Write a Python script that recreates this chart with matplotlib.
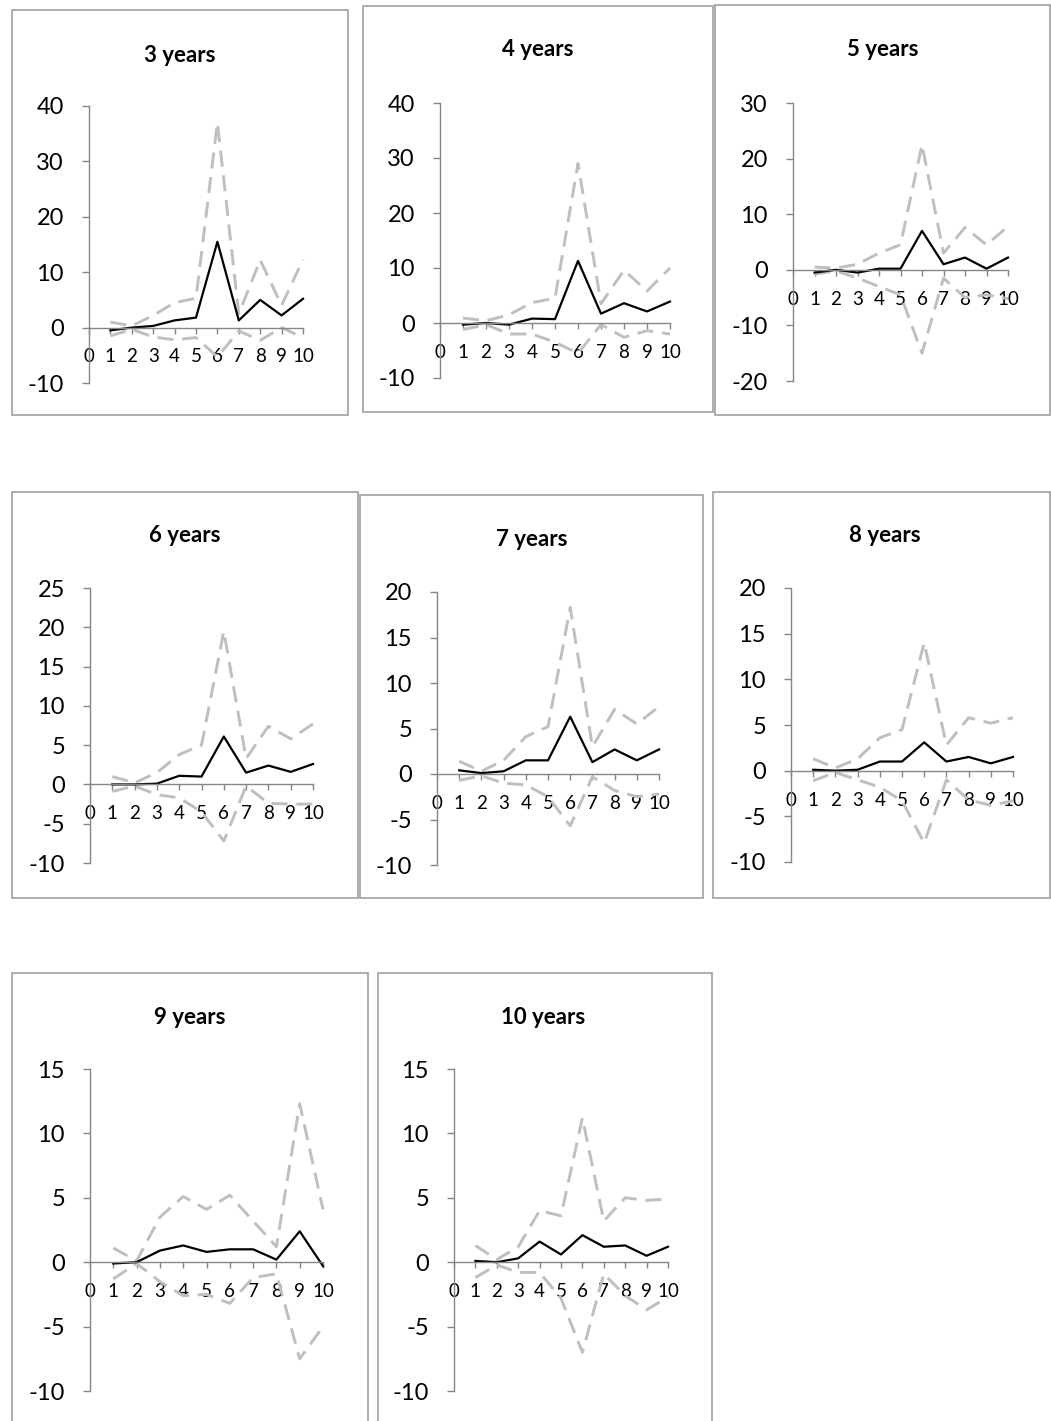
import matplotlib
matplotlib.use("Agg")
import matplotlib.pyplot as plt
from matplotlib.patches import Rectangle

plt.rcParams['font.family'] = ['Lato', 'DejaVu Sans']
plt.rcParams['axes.unicode_minus'] = False

W, H = 1051, 1421  # canvas size in pixels

steps = [1, 2, 3, 4, 5, 6, 7, 8, 9, 10]
titles = ["3 years", "4 years", "5 years", "6 years",
          "7 years", "8 years", "9 years", "10 years"]

# estimate and band for every horizon
mid_3 = [-0.5, 0.0, 0.3, 1.3, 1.8, 15.5, 1.3, 5.0, 2.2, 5.2]
hi_3 = [1.0, 0.3, 2.2, 4.5, 5.3, 37.0, 2.5, 12.2, 4.0, 12.3]
lo_3 = [-1.5, -0.3, -1.7, -2.2, -1.8, -5.3, -0.6, -2.3, 0.0, -1.8]

mid_4 = [-0.3, 0.0, -0.3, 0.8, 0.7, 11.3, 1.7, 3.6, 2.1, 3.9]
hi_4 = [0.9, 0.4, 1.5, 3.7, 4.5, 29.0, 3.5, 9.6, 5.8, 10.0]
lo_4 = [-1.2, -0.3, -2.0, -2.0, -3.5, -5.5, -0.3, -2.6, -1.4, -2.0]

mid_5 = [-0.5, 0.0, -0.5, 0.2, 0.2, 7.0, 1.0, 2.2, 0.2, 2.2]
hi_5 = [0.5, 0.3, 1.0, 3.0, 4.5, 22.5, 3.0, 7.6, 4.5, 7.8]
lo_5 = [-0.8, -0.2, -1.5, -3.0, -4.5, -15.0, -1.5, -5.0, -4.5, -5.2]

mid_6 = [0.0, 0.0, 0.1, 1.1, 1.0, 6.1, 1.5, 2.4, 1.6, 2.6]
hi_6 = [1.0, 0.2, 1.5, 3.8, 5.0, 19.5, 3.3, 7.4, 5.8, 7.7]
lo_6 = [-0.9, -0.2, -1.3, -1.7, -3.5, -7.2, -0.2, -2.4, -2.5, -2.5]

mid_7 = [0.4, 0.1, 0.3, 1.5, 1.5, 6.3, 1.3, 2.7, 1.5, 2.7]
hi_7 = [1.4, 0.3, 1.5, 4.1, 5.2, 18.3, 3.0, 7.1, 5.5, 7.4]
lo_7 = [-0.7, -0.2, -1.0, -1.2, -2.5, -5.7, -0.3, -1.8, -2.5, -2.2]

mid_8 = [0.1, 0.0, 0.1, 1.0, 1.0, 3.1, 1.0, 1.5, 0.8, 1.5]
hi_8 = [1.3, 0.3, 1.3, 3.6, 4.5, 14.0, 2.8, 5.8, 5.2, 5.8]
lo_8 = [-1.1, -0.2, -1.0, -1.8, -3.3, -7.9, -1.0, -3.2, -3.8, -3.3]

mid_9 = [-0.1, 0.0, 0.9, 1.3, 0.8, 1.0, 1.0, 0.2, 2.4, -0.3]
hi_9 = [1.1, 0.1, 3.5, 5.1, 4.1, 5.2, 3.2, 1.2, 12.3, 4.1]
lo_9 = [-1.3, -0.1, -1.5, -2.6, -2.5, -3.2, -1.2, -0.9, -7.5, -5.0]

mid_10 = [0.1, 0.0, 0.3, 1.6, 0.6, 2.1, 1.2, 1.3, 0.5, 1.2]
hi_10 = [1.3, 0.2, 1.2, 4.0, 3.6, 11.2, 3.2, 5.0, 4.8, 4.9]
lo_10 = [-1.2, -0.2, -0.8, -0.8, -2.8, -7.0, -0.9, -2.6, -3.7, -2.7]

y_ranges = [(-10, 40, 10), (-10, 40, 10), (-20, 30, 10), (-10, 25, 5),
            (-10, 20, 5), (-10, 20, 5), (-10, 15, 5), (-10, 15, 5)]

series = [(mid_3, hi_3, lo_3), (mid_4, hi_4, lo_4), (mid_5, hi_5, lo_5),
          (mid_6, hi_6, lo_6), (mid_7, hi_7, lo_7), (mid_8, hi_8, lo_8),
          (mid_9, hi_9, lo_9), (mid_10, hi_10, lo_10)]

# pixel layout: plot area (x0, x10, ytop, ybot), frame (l, t, r, b), title (x, y)
plot_px = [(89, 303, 106, 383), (440, 670, 103, 378), (793, 1008, 103, 381),
           (90, 313, 588, 863), (437, 659, 592, 865), (791, 1013, 588, 862),
           (90, 323, 1069, 1391), (454, 668, 1069, 1391)]
frame_px = [(12, 10, 348, 415), (363, 6, 713, 412), (715, 5, 1050, 415),
            (12, 492, 358, 898), (360, 495, 703, 898), (713, 492, 1050, 898),
            (12, 973, 368, 1425), (378, 973, 712, 1425)]
title_px = [(180, 55), (538, 50), (883, 50), (185, 536), (532, 540),
            (885, 536), (190, 1018), (543, 1018)]

axis_grey = "#868686"
band_grey = "#bfbfbf"

fig = plt.figure(figsize=(W / 100, H / 100), dpi=100)

for i in range(len(titles)):
    l, t, r, b = frame_px[i]
    fig.patches.append(Rectangle((l / W, 1 - b / H), (r - l) / W, (b - t) / H,
                                 transform=fig.transFigure, fill=False,
                                 edgecolor="#a0a0a0", linewidth=1.2))
    tx, ty = title_px[i]
    fig.text(tx / W, 1 - ty / H, titles[i], ha="center", va="center",
             fontsize=16, fontweight="bold")

    x0, x10, yt, yb = plot_px[i]
    ax = fig.add_axes([x0 / W, 1 - yb / H, (x10 - x0) / W, (yb - yt) / H])
    ax.patch.set_alpha(0)
    ymin, ymax, ystep = y_ranges[i]
    mid, hi, lo = series[i]

    ax.plot(steps, hi, color=band_grey, lw=2.1, ls=(0, (5.5, 3)), clip_on=False)
    ax.plot(steps, lo, color=band_grey, lw=2.1, ls=(0, (5.5, 3)), clip_on=False)
    ax.plot(steps, mid, color="black", lw=1.6, clip_on=False)

    ax.set_xlim(0, 10)
    ax.set_ylim(ymin, ymax)
    ax.set_xticks(range(0, 11))
    ax.set_yticks(range(ymin, ymax + 1, ystep))

    for s in ["top", "right"]:
        ax.spines[s].set_visible(False)
    ax.spines["bottom"].set_position(("data", 0))
    ax.spines["left"].set_position(("data", 0))
    for s in ["bottom", "left"]:
        ax.spines[s].set_color(axis_grey)
        ax.spines[s].set_linewidth(1.0)

    ax.tick_params(axis="x", direction="out", length=4, width=1.0,
                   color=axis_grey, labelsize=13.5, pad=11)
    ax.tick_params(axis="y", direction="out", length=5, width=1.0,
                   color=axis_grey, labelsize=17, pad=13)

fig.savefig("out.png", dpi=100)
